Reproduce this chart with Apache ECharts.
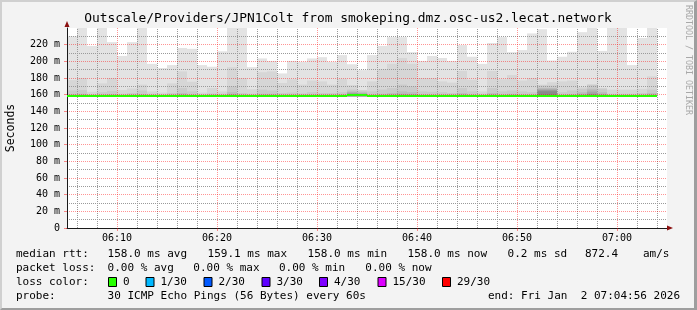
<!DOCTYPE html>
<html><head><meta charset="utf-8">
<script src="https://cdn.jsdelivr.net/npm/echarts@6/dist/echarts.min.js"></script>
<style>
html,body{margin:0;padding:0;background:#f3f3f3;}
#wrap{position:relative;width:697px;height:310px;overflow:hidden;}
#chart{position:absolute;left:0;top:0;width:697px;height:310px;}
#frame{position:absolute;left:0;top:0;width:697px;height:310px;box-sizing:border-box;border-top:2px solid #d0d0d0;border-left:2px solid #d0d0d0;border-right:3px solid #9e9e9e;border-bottom:2px solid #9e9e9e;pointer-events:none;}
</style></head><body>
<div id="wrap"><div id="chart"></div><div id="frame"></div></div>
<script>
// ---------------- data ----------------
const TITLE = 'Outscale/Providers/JPN1Colt from smokeping.dmz.osc-us2.lecat.network';
const firstSlotMinute = 5;       // first one-minute slot starts 06:05
const slotMinutes = 1;
const xTickLabels = ['06:10', '06:20', '06:30', '06:40', '06:50', '07:00'];
const baseRtt = 158;             // lowest ping (ms)

// smoke layers (ms): outermost (max ping) ... inner pings
const smoke1 = [230,240,218.5,240,223,206.5,223,240,197,192,195.5,216,215,195.5,193.5,212,240,240,193,203.5,200.5,185.5,200.5,199.5,203.5,205,199.5,207.5,196.5,189.5,207.5,218.5,229,229,211,200.5,206.5,204,200.5,219.5,205.5,197,222,229,211,213.5,233.5,238.5,201,205.5,211.5,235,240,212.5,240,240,195.5,228,240];
const smoke2 = [177.5,180,163.5,173.5,180,165.5,167.5,172,164,162.5,173.5,188,175.5,162.5,168,164,193,180,166.5,187,188,174,178.5,172,177,176,172,179,171.5,165.5,176,190.5,197,204,197,180,180,176,174.5,188.5,178,164,188.5,178.5,183.5,177,180,172,175,176,177,169,172,168,166,166,166,167,182];
const smoke3 = [165,165.5,160.5,163,164.5,161,162,165,161,160.5,162,168,164,160.5,161.5,161,170,162,161,166,165,162,162.5,161.5,163,162,162,163,166,165,164,166,168,172,170,164,163.5,163,162,168,164,161,168,164,165,164,163,171,171,163,165,167,172,167,161,161,161,162,166];
const smoke4 = [160.5,161,159.5,160,160.5,159.5,160,160.5,159.5,159.5,160,162,160,159.5,160,159.5,163,160,159.5,161,161,160,160,160,160,160,160,160.5,164,163,160,161,162,164,163,160,160,160,160,162,160,159.5,162,160,161,160,160,168,168,160,160.5,163,167,163,159.5,159.5,159.5,160,162];
const smoke5 = [159,159.5,158.5,159,159,158.5,159,159,158.5,158.5,159,160,159,158.5,159,158.5,160.5,159,158.5,159.5,159.5,159,159,159,159,159,159,159,163,162,159,159.5,160,161,160.5,159,159,159,159,160,159,158.5,160,159,159.5,159,159,167,167,159,159,161,165,161,158.5,158.5,158.5,159,160];
const smoke6 = [158,158,158,158,158,158,158,158,158,158,158,158,158,158,158,158,158,158,158,158,158,158,158,158,158,158,158,158,162,161,158,158,158,158,158,158,158,158,158,158,158,158,158,158,158,158,158,166,166,158,158,159,163,159,158,158,158,158,158];
const smoke7 = [158,158,158,158,158,158,158,158,158,158,158,158,158,158,158,158,158,158,158,158,158,158,158,158,158,158,158,158,161,160,158,158,158,158,158,158,158,158,158,158,158,158,158,158,158,158,158,165,165,158,158,158,161,158,158,158,158,158,158];
const smoke8 = [158,158,158,158,158,158,158,158,158,158,158,158,158,158,158,158,158,158,158,158,158,158,158,158,158,158,158,158,158,158,158,158,158,158,158,158,158,158,158,158,158,158,158,158,158,158,158,164,164,158,158,158,158,158,158,158,158,158,158];
const medianRtt = [158,158,158,158,158,158,158,158,158,158,158,158,158,158,158,158,158,158,158,158,158,158,158,158,158,158,158,158,159.5,159.5,158,158,158,158,158,158,158,158,158,158,158,158,158,158,158,158,158,158,158,158,158,158,158,158,158,158,158,158,158];

const minorXTicks = [6,8,12,14,16,18,22,24,26,28,32,34,36,38,42,44,46,48,52,54,56,58,62,64];
const minorYTicks = [10,30,50,70,90,110,130,150,170,190,210,230];

const smokeColors = ['#e3e3e3','#d6d6d6','#cacaca','#bdbdbd','#b0b0b0','#a4a4a4','#979797','#8a8a8a'];
const lossLabels = ['0','1/30','2/30','3/30','4/30','15/30','29/30'];
const lossColors = ['#26ff00','#00b8ff','#0059ff','#5e00ff','#7e00ff','#dd00ff','#ff0000'];
const medianStats = ['158.0 ms avg','159.1 ms max','158.0 ms min','158.0 ms now','0.2 ms sd','872.4','am/s'];
const lossStats = ['0.00 % avg','0.00 % max','0.00 % min','0.00 % now'];
const probeText = '30 ICMP Echo Pings (56 Bytes) every 60s';
const endText = 'end: Fri Jan  2 07:04:56 2026';

// ---------------- chart ----------------
const MONO = '"DejaVu Sans Mono", "Liberation Mono", monospace';
const chart = echarts.init(document.getElementById('chart'), null, {renderer: 'canvas'});
const Y_MIN = 0, Y_MAX = 240, X_MIN = 5, X_MAX = 65;

function layer(tops, color, z) {
  return {
    type: 'custom', xAxisIndex: 0, yAxisIndex: 0, z: z, silent: true, animation: false, clip: true,
    data: tops.map((v, k) => [firstSlotMinute + k * slotMinutes, v, baseRtt]),
    renderItem: function (params, api) {
      const a = api.coord([api.value(0), api.value(1)]);
      const b = api.coord([api.value(0) + slotMinutes, api.value(2)]);
      return {type: 'rect', shape: {x: a[0], y: a[1], width: b[0] - a[0], height: b[1] - a[1]}, style: {fill: color}};
    }
  };
}

const smokeLayers = [smoke1, smoke2, smoke3, smoke4, smoke5, smoke6, smoke7, smoke8];
const series = smokeLayers.map((arr, i) => layer(arr, smokeColors[i], 2 + i * 0.1));

// minor grid: grey dotted lines every 2 minutes and every 10 ms
series.push({
  type: 'line', xAxisIndex: 0, yAxisIndex: 0, z: 15, silent: true, animation: false, data: [],
  markLine: {silent: true, animation: false, symbol: ['none', 'none'], label: {show: false},
    lineStyle: {color: '#9a9a9a', width: 1, type: [1, 1]},
    emphasis: {disabled: true},
    data: minorXTicks.map(v => ({xAxis: v})).concat(minorYTicks.map(v => ({yAxis: v})))}
});

// median line coloured by loss (all 0 loss)
series.push({
  type: 'custom', xAxisIndex: 0, yAxisIndex: 0, z: 30, silent: true, animation: false, clip: true,
  data: medianRtt.map((v, k) => [firstSlotMinute + k * slotMinutes, v]),
  renderItem: function (params, api) {
    const a = api.coord([api.value(0), api.value(1)]);
    const b = api.coord([api.value(0) + slotMinutes, api.value(1)]);
    return {type: 'rect', shape: {x: a[0], y: Math.round(a[1]) - 1, width: b[0] - a[0], height: 2}, style: {fill: lossColors[0]}};
  }
});

function fmtX(v) {
  const idx = (v - 10) / 10;
  return Number.isInteger(idx) && xTickLabels[idx] !== undefined ? xTickLabels[idx] : '';
}

const graphics = [];
const LEG_FONT = '11px ' + MONO;
function txt(x, y, s, opts) {
  graphics.push(Object.assign({type: 'text', x: x, y: y, silent: true, z: 50,
    style: Object.assign({text: s, font: LEG_FONT, fill: '#000', verticalAlign: 'middle', align: 'left'}, (opts && opts.style) || {})},
    opts && opts.rotation !== undefined ? {rotation: opts.rotation} : {}));
}
txt(348, 19, TITLE, {style: {font: '12.9px ' + MONO, align: 'center'}});
txt(688, 5, 'RRDTOOL / TOBI OETIKER', {rotation: -Math.PI / 2, style: {font: '8.3px ' + MONO, fill: '#a8a8a8'}});
const row1X = [107.6, 207.6, 307.6, 407.6, 507.6, 585, 643];
txt(16, 254.5, 'median rtt:');
medianStats.forEach((s, i) => txt(row1X[i], 254.5, s));
const row2X = [107.6, 193.3, 279, 365.3];
txt(16, 268.3, 'packet loss:');
lossStats.forEach((s, i) => txt(row2X[i], 268.3, s));
const swX = [108, 145.5, 203.5, 261.5, 319, 377.5, 442];
txt(16, 282.3, 'loss color:');
lossLabels.forEach((s, i) => {
  graphics.push({type: 'rect', x: swX[i] + 0.5, y: 277.5, silent: true, z: 50,
    shape: {x: 0, y: 0, width: 8, height: 9}, style: {fill: lossColors[i], stroke: '#000', lineWidth: 1}});
  txt(swX[i] + 15, 282.3, s);
});
txt(16, 296, 'probe:');
txt(107.6, 296, probeText);
txt(680, 296, endText, {style: {align: 'right'}});

const option = {
  backgroundColor: '#f3f3f3',
  animation: false,
  grid: {left: 67, top: 28, width: 600, height: 200, show: true, backgroundColor: '#ffffff', borderWidth: 0,
         containLabel: false, outerBoundsMode: 'none'},
  xAxis: [{
    type: 'value', min: X_MIN, max: X_MAX, splitNumber: 6, z: 20,
    axisLine: {show: true, onZero: false, lineStyle: {color: '#1a1a1a', width: 1}},
    axisTick: {show: true, length: 3, lineStyle: {color: 'rgba(255,0,0,0.45)'}},
    splitLine: {show: true, showMinLine: false, showMaxLine: false, lineStyle: {color: 'rgba(255,0,0,0.42)', width: 1, type: [1, 1]}},
    axisLabel: {show: true, showMinLabel: false, showMaxLabel: false, formatter: fmtX, fontFamily: MONO, fontSize: 10, color: '#000', margin: 5}
  }, {
    type: 'value', min: X_MIN, max: X_MAX, position: 'bottom', z: 21,
    axisLine: {show: true, onZero: false, symbol: ['none', 'triangle'], symbolSize: [5, 6], symbolOffset: [0, 3], lineStyle: {color: '#8b1010', width: 0}},
    axisTick: {show: false}, axisLabel: {show: false}, splitLine: {show: false}
  }],
  yAxis: [{
    type: 'value', min: Y_MIN, max: Y_MAX, interval: 20, z: 20,
    name: 'Seconds', nameLocation: 'middle', nameGap: 50, nameRotate: 90,
    nameTextStyle: {fontFamily: MONO, fontSize: 11.5, color: '#000'},
    axisLine: {show: true, onZero: false, lineStyle: {color: '#1a1a1a', width: 1}},
    axisTick: {show: true, length: 3, lineStyle: {color: 'rgba(255,0,0,0.45)'}},
    splitLine: {show: true, showMinLine: false, showMaxLine: false, lineStyle: {color: 'rgba(255,0,0,0.42)', width: 1, type: [1, 1]}},
    axisLabel: {show: true, showMaxLabel: false, formatter: v => (v === 0 ? '0' : v + ' m'), fontFamily: MONO, fontSize: 10, color: '#000', margin: 7}
  }, {
    type: 'value', min: Y_MIN, max: Y_MAX, position: 'left', z: 21,
    axisLine: {show: true, onZero: false, symbol: ['none', 'triangle'], symbolSize: [5, 6], symbolOffset: [0, 4], lineStyle: {color: '#8b1010', width: 0}},
    axisTick: {show: false}, axisLabel: {show: false}, splitLine: {show: false}
  }],
  series: series,
  graphic: graphics
};
chart.setOption(option);
</script>
</body></html>
